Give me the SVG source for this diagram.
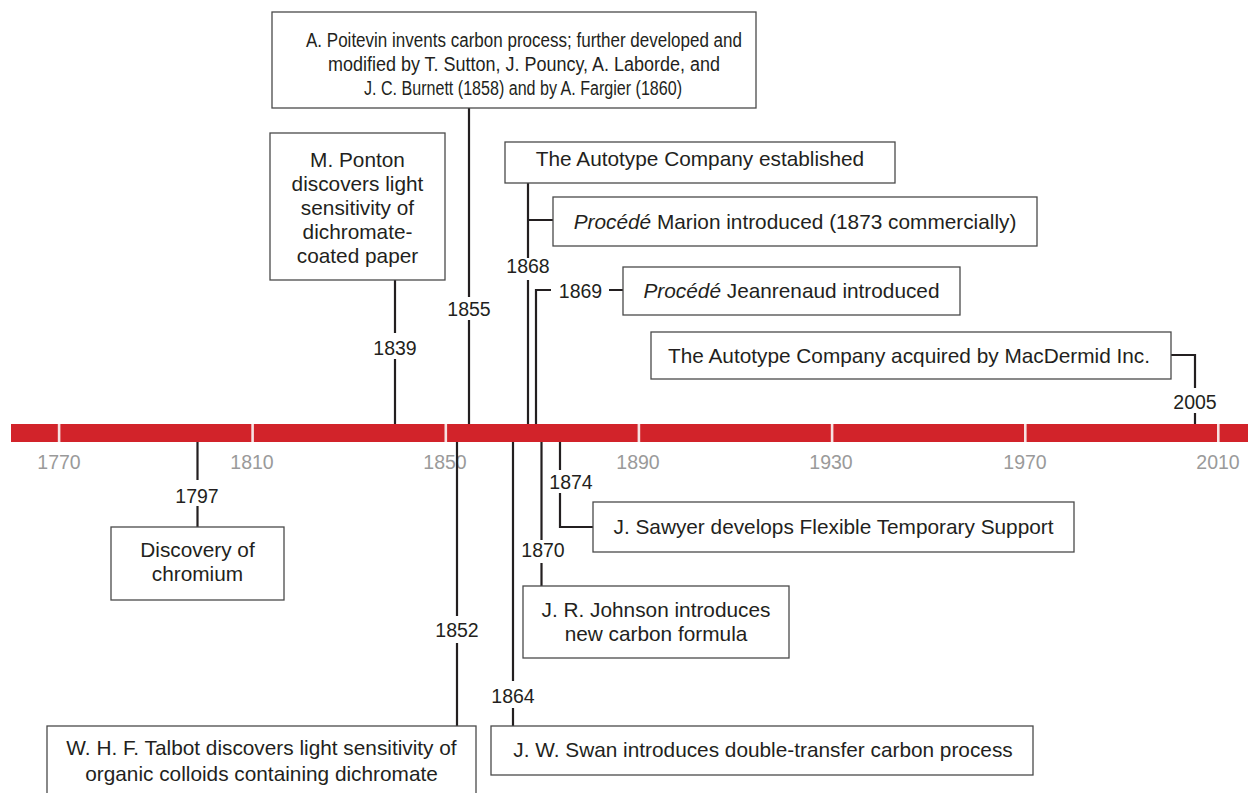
<svg xmlns="http://www.w3.org/2000/svg" width="1248" height="793" viewBox="0 0 1248 793">
<style>
.bg{fill:#ffffff}
.box{fill:#ffffff;stroke:#4a4a4a;stroke-width:1.3}
.t{font-family:"Liberation Sans",Arial,sans-serif;font-size:20.8px;fill:#231f20;text-anchor:middle}
.tp{font-family:"Liberation Sans",Arial,sans-serif;font-size:19.4px;fill:#231f20;text-anchor:middle}
.yr{font-family:"Liberation Sans",Arial,sans-serif;font-size:19.5px;fill:#231f20;text-anchor:middle}
.ax{font-family:"Liberation Sans",Arial,sans-serif;font-size:19.5px;fill:#9a9a9a;text-anchor:middle}
.c{fill:none;stroke:#231f20;stroke-width:2.2}
.bar{fill:#d2232a}
.gap{fill:#f6e2e2}
</style>
<rect class="bg" x="0" y="0" width="1248" height="793"/>
<g id="timeline">
<rect class="bar" x="11" y="424" width="1237" height="18"/>
<rect class="gap" x="57.8" y="424" width="2.6" height="18"/>
<rect class="gap" x="251.3" y="424" width="2.6" height="18"/>
<rect class="gap" x="444.5" y="424" width="2.6" height="18"/>
<rect class="gap" x="637.6" y="424" width="2.6" height="18"/>
<rect class="gap" x="830.8" y="424" width="2.6" height="18"/>
<rect class="gap" x="1024" y="424" width="2.6" height="18"/>
<rect class="gap" x="1217" y="424" width="2.6" height="18"/>
<text class="ax" x="59" y="469">1770</text>
<text class="ax" x="252" y="469">1810</text>
<text class="ax" x="445" y="469">1850</text>
<text class="ax" x="638" y="469">1890</text>
<text class="ax" x="831" y="469">1930</text>
<text class="ax" x="1025" y="469">1970</text>
<text class="ax" x="1218" y="469">2010</text>
</g>
<g id="connectors">
<path class="c" d="M469 108V297M469 320V424"/>
<path class="c" d="M395 280V333M395 359V424"/>
<path class="c" d="M528 183V258M528 280V424M528 220H553"/>
<path class="c" d="M536 424V290H551M609 290H623"/>
<path class="c" d="M1171 355H1195V388M1195 413V424"/>
<path class="c" d="M197.5 442V480M197.5 506V527"/>
<path class="c" d="M457 442V616M457 643V726"/>
<path class="c" d="M513 442V681M513 708V726"/>
<path class="c" d="M541.5 442V540M541.5 563V586"/>
<path class="c" d="M560 442V470M560 493V527H593"/>
</g>
<g id="poitevin">
<rect class="box" x="272" y="12" width="484" height="96"/>
<text class="tp" x="524" y="47" textLength="436" lengthAdjust="spacingAndGlyphs">A. Poitevin invents carbon process; further developed and</text>
<text class="tp" x="524" y="71" textLength="392" lengthAdjust="spacingAndGlyphs">modified by T. Sutton, J. Pouncy, A. Laborde, and</text>
<text class="tp" x="523" y="95" textLength="318" lengthAdjust="spacingAndGlyphs">J. C. Burnett (1858) and by A. Fargier (1860)</text>
<text class="yr" x="469" y="316">1855</text>
</g>
<g id="ponton">
<rect class="box" x="270" y="133" width="175" height="147"/>
<text class="t" x="357.5" y="167">M. Ponton</text>
<text class="t" x="357.5" y="191">discovers light</text>
<text class="t" x="357.5" y="215">sensitivity of</text>
<text class="t" x="357.5" y="239">dichromate-</text>
<text class="t" x="357.5" y="263">coated paper</text>
<text class="yr" x="395" y="355">1839</text>
</g>
<g id="autotype">
<rect class="box" x="505" y="142" width="390" height="41"/>
<text class="t" x="700" y="166">The Autotype Company established</text>
<text class="yr" x="528" y="273">1868</text>
</g>
<g id="marion">
<rect class="box" x="553" y="197" width="484" height="49"/>
<text class="t" x="795" y="229"><tspan font-style="italic">Procédé</tspan> Marion introduced (1873 commercially)</text>
</g>
<g id="jeanrenaud">
<text class="yr" x="580.5" y="298">1869</text>
<rect class="box" x="623" y="267" width="337" height="48"/>
<text class="t" x="791.5" y="298"><tspan font-style="italic">Procédé</tspan> Jeanrenaud introduced</text>
</g>
<g id="macdermid">
<rect class="box" x="651" y="332" width="520" height="47"/>
<text class="t" x="909" y="363">The Autotype Company acquired by MacDermid Inc.</text>
<text class="yr" x="1195" y="409">2005</text>
</g>
<g id="chromium">
<text class="yr" x="197" y="503">1797</text>
<rect class="box" x="111" y="527" width="173" height="73"/>
<text class="t" x="197.5" y="557">Discovery of</text>
<text class="t" x="197.5" y="581">chromium</text>
</g>
<g id="talbot">
<text class="yr" x="457" y="637">1852</text>
<rect class="box" x="47" y="726" width="429" height="80"/>
<text class="t" x="261.5" y="755">W. H. F. Talbot discovers light sensitivity of</text>
<text class="t" x="261.5" y="781">organic colloids containing dichromate</text>
</g>
<g id="swan">
<text class="yr" x="513" y="703">1864</text>
<rect class="box" x="491" y="726" width="542" height="49"/>
<text class="t" x="763" y="757">J. W. Swan introduces double-transfer carbon process</text>
</g>
<g id="johnson">
<text class="yr" x="543" y="557">1870</text>
<rect class="box" x="523" y="586" width="266" height="72"/>
<text class="t" x="656" y="617">J. R. Johnson introduces</text>
<text class="t" x="656" y="641">new carbon formula</text>
</g>
<g id="sawyer">
<text class="yr" x="571" y="489">1874</text>
<rect class="box" x="593" y="502" width="481" height="50"/>
<text class="t" x="833.5" y="534">J. Sawyer develops Flexible Temporary Support</text>
</g>
</svg>
